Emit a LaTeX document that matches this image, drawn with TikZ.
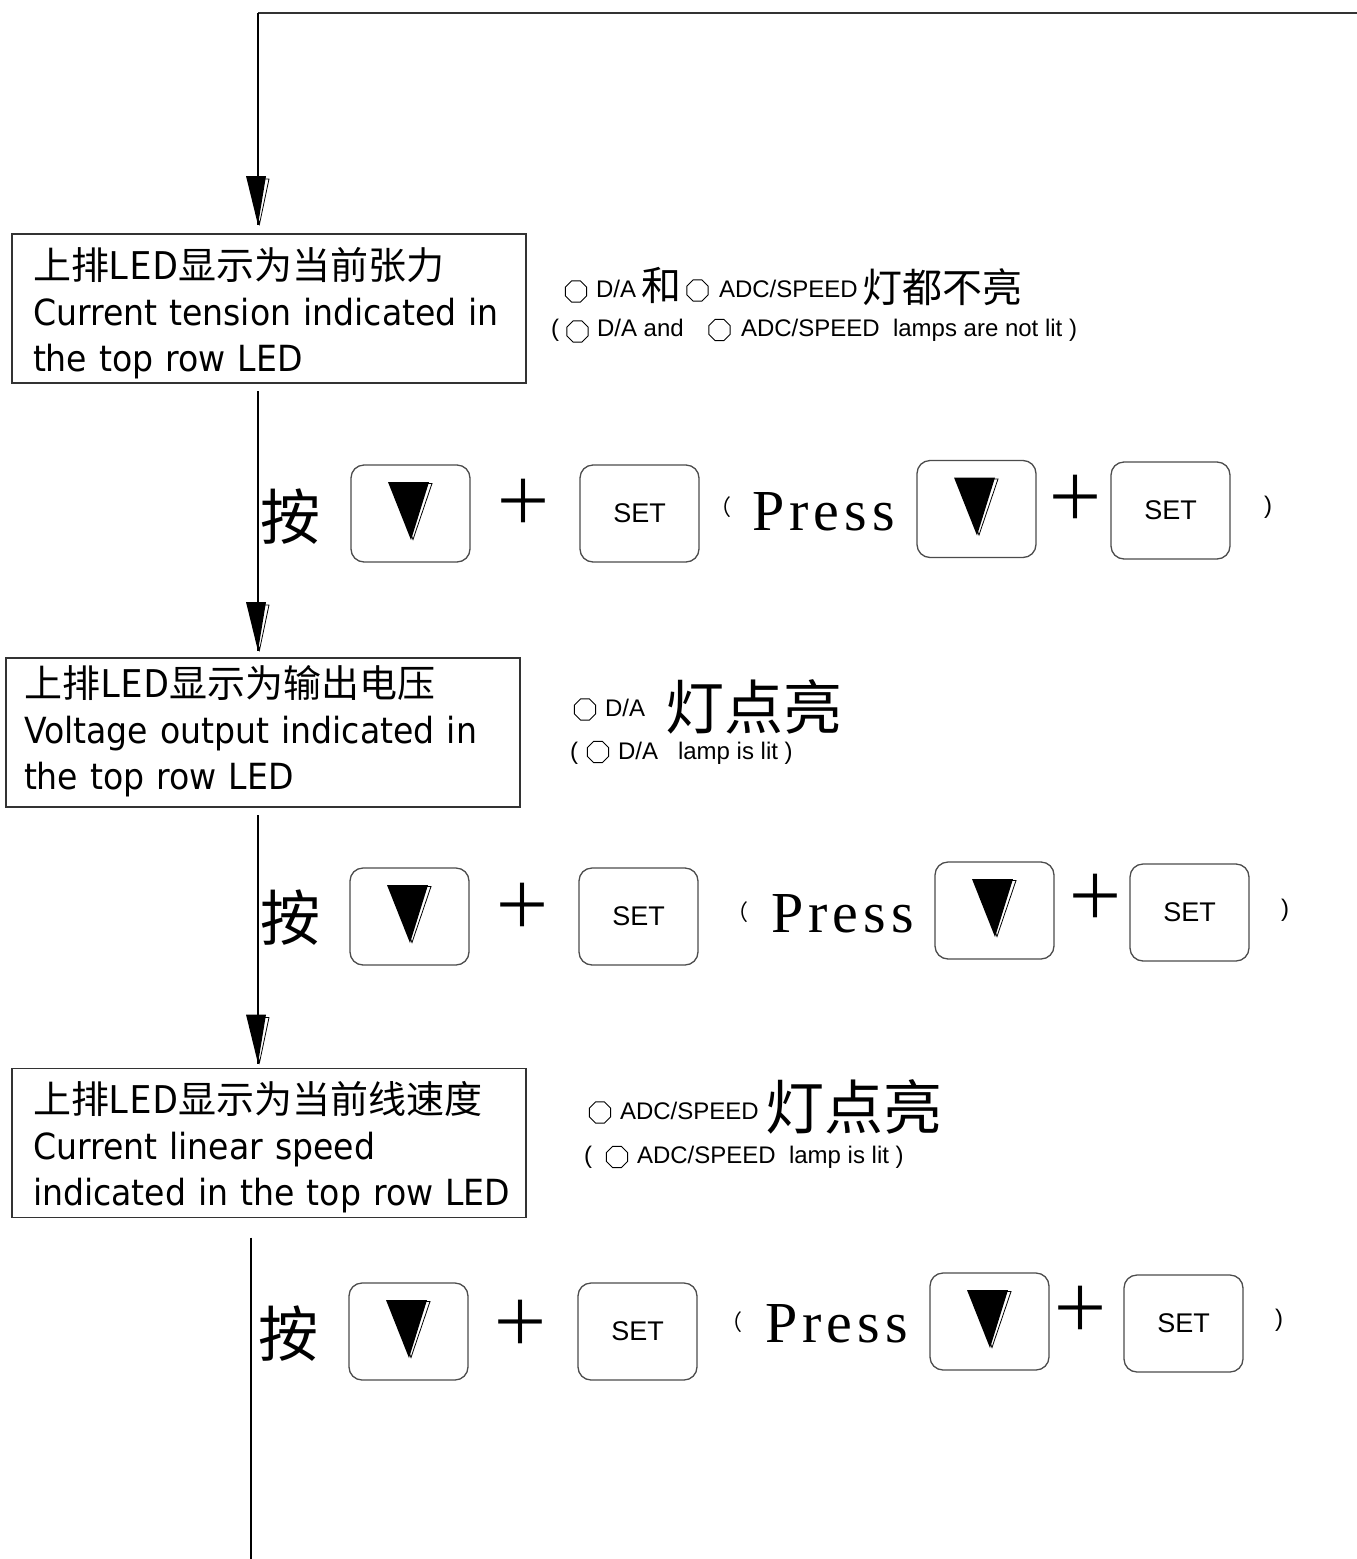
\documentclass[tikz,border=0pt]{standalone}
\usepackage{fontspec}
\setmainfont{Liberation Sans}
\newfontfamily\cjk{Noto Sans CJK SC}
\newfontfamily\boxfont{DejaVu Sans}[FakeStretch=0.92]
\newfontfamily\pressfont{Liberation Serif}[LetterSpace=9]
\usetikzlibrary{shapes.geometric}
\tikzset{
  every node/.style={inner sep=0pt, outer sep=0pt},
  stepbox/.style={draw=black!80, line width=1.3pt, inner xsep=21pt, text width=472pt,
    align=left, minimum height=149pt, font=\boxfont\fontsize{36pt}{46pt}\selectfont},
  btn/.style={draw=black!70, line width=1.3pt, rounded corners=13pt,
    minimum width=119pt, minimum height=97pt},
  settext/.style={font=\fontsize{27pt}{27pt}\selectfont},
  lamp/.style={draw, regular polygon, regular polygon sides=8, minimum size=23pt, line width=0.9pt},
  small/.style={font=\fontsize{24pt}{24pt}\selectfont, anchor=base west},
  bigcjk/.style={font=\cjk\fontsize{59pt}{59pt}\selectfont, anchor=west},
  midcjk/.style={font=\cjk\fontsize{40pt}{40pt}\selectfont, anchor=west},
  presskey/.style={font=\cjk\fontsize{60pt}{60pt}\selectfont},
  plus/.style={font=\cjk\fontsize{60pt}{60pt}\selectfont},
  lparen/.style={font=\cjk\fontsize{22pt}{22pt}\selectfont},
  rparen/.style={font=\fontsize{24pt}{24pt}\selectfont},
  presstxt/.style={font=\pressfont\fontsize{58pt}{58pt}\selectfont, anchor=base west},
  conn/.style={line width=1.4pt, draw=black},
  btntri/.pic={
    \filldraw[fill=white, draw=black, line width=0.8pt] (-19.5,-30) -- (21.5,-30) -- (2.5,26) -- cycle;
    \fill[black] (-22.5,-31.5) -- (18.5,-31.5) -- (0.5,26.5) -- cycle;
  },
  tiptri/.pic={
    \filldraw[fill=white, draw=black, line width=0.8pt] (-9,-46) -- (11,-46) -- (1.5,-1) -- cycle;
    \fill[black] (-12,-49) -- (8,-49) -- (0,0) -- cycle;
  }
}
\begin{document}
\begin{tikzpicture}[x=1pt,y=-1pt]
\useasboundingbox[fill=white] (0,0) rectangle (1357,1559);

% ---- step boxes
\node[stepbox] (b1) at (269,308.5) {\mbox{\cjk\fontsize{38pt}{46pt}\selectfont\rule{0pt}{42pt}上排LED显示为当前张力}\\ \mbox{Current tension indicated in}\\ \mbox{the top row LED\rule[-9pt]{0pt}{9pt}}};
\node[stepbox, inner xsep=18pt, text width=478pt] (b2) at (263,732.5) {\mbox{\cjk\fontsize{38pt}{46pt}\selectfont\rule{0pt}{35pt}上排LED显示为输出电压}\\ \mbox{Voltage output indicated in}\\ \mbox{the top row LED\rule[-14pt]{0pt}{14pt}}};
\node[stepbox] (b3) at (269,1143) {\mbox{\cjk\fontsize{38pt}{46pt}\selectfont\rule{0pt}{42pt}上排LED显示为当前线速度}\\ \mbox{Current linear speed}\\ \mbox{indicated in the top row LED\rule[-9pt]{0pt}{9pt}}};

% ---- connectors
\coordinate (tr) at (1357,13);
\coordinate (tl) at (258,13);
\coordinate (xa) at (258,0);
\coordinate (xb) at (251,0);
\coordinate (bend) at (251,1559);
\draw[conn, draw=black!80, line width=1.8pt] (tr) -- (tl);
\draw[conn] (tl) -- ([yshift=9pt]b1.north -| tl);
\pic at ([yshift=9pt]b1.north -| tl) {tiptri};
\draw[conn] ([yshift=-8pt]b1.south -| xa) -- ([yshift=7pt]b2.north -| xa);
\pic at ([yshift=7pt]b2.north -| xa) {tiptri};
\draw[conn] ([yshift=-8pt]b2.south -| xa) -- ([yshift=5pt]b3.north -| xa);
\pic at ([yshift=5pt]b3.north -| xa) {tiptri};
\draw[conn] ([yshift=-20pt]b3.south -| xb) -- (bend);

% ---- lamp labels, step 1
\node[lamp] (l1a) at (576,291.5) {};
\node[small] (t1a) at (596,297) {D/A};
\node[midcjk] (t1b) at (641,285) {和};
\node[lamp] (l1b) at (697.5,290.5) {};
\node[small] (t1c) at (719,297) {ADC/SPEED};
\node[midcjk] (t1d) at (862,287) {灯都不亮};
\node[small] (t1e) at (551,336) {(};
\node[lamp] (l1c) at (577.5,331.5) {};
\node[small] (t1f) at (597,336) {D/A and};
\node[lamp] (l1d) at (719.5,330) {};
\node[small] (t1g) at (741,336) {ADC/SPEED\ \ lamps are not lit )};

% ---- lamp labels, step 2
\node[lamp] (l2a) at (585,709.5) {};
\node[small] (t2a) at (605,716) {D/A};
\node[bigcjk] (t2b) at (665,707) {灯点亮};
\node[small] (t2c) at (570,759) {(};
\node[lamp] (l2b) at (598,752) {};
\node[small] (t2d) at (618,759) {D/A\ \ \ lamp is lit )};

% ---- lamp labels, step 3
\node[lamp] (l3a) at (600,1112.5) {};
\node[small] (t3a) at (620,1119) {ADC/SPEED};
\node[bigcjk] (t3b) at (765,1107) {灯点亮};
\node[small] (t3c) at (584,1163) {(};
\node[lamp] (l3b) at (617,1157) {};
\node[small] (t3d) at (637,1163) {ADC/SPEED\ \ lamp is lit )};

% ---- key rows
% row 1
\node[presskey] (k1) at (290,517) {按};
\node[btn] (d1) at (410.5,513.5) {};
\pic at (d1.center) {btntri};
\node[plus] (pa1) at (523,501) {＋};
\node[btn, settext] (s1) at (639.5,513.5) {SET};
\node[lparen] (lp1) at (720,507) {（};
\node[presstxt] (pr1) at (752,530) {Press};
\node[btn] (e1) at (976.5,509) {};
\pic at (e1.center) {btntri};
\node[plus] (pb1) at (1075,497) {＋};
\node[btn, settext] (u1) at (1170.5,510.5) {SET};
\node[rparen] (rp1) at (1268,507) {)};
% row 2
\node[presskey] (k2) at (290,918) {按};
\node[btn] (d2) at (409.5,916.5) {};
\pic at (d2.center) {btntri};
\node[plus] (pa2) at (522,905) {＋};
\node[btn, settext] (s2) at (638.5,916.5) {SET};
\node[lparen] (lp2) at (737,912) {（};
\node[presstxt] (pr2) at (771,932) {Press};
\node[btn] (e2) at (994.5,910.5) {};
\pic at (e2.center) {btntri};
\node[plus] (pb2) at (1095,896) {＋};
\node[btn, settext] (u2) at (1189.5,912.5) {SET};
\node[rparen] (rp2) at (1285,910) {)};
% row 3
\node[presskey] (k3) at (288,1334) {按};
\node[btn] (d3) at (408.5,1331.5) {};
\pic at (d3.center) {btntri};
\node[plus] (pa3) at (520,1322) {＋};
\node[btn, settext] (s3) at (637.5,1331.5) {SET};
\node[lparen] (lp3) at (731,1322) {（};
\node[presstxt] (pr3) at (765,1342) {Press};
\node[btn] (e3) at (989.5,1321.5) {};
\pic at (e3.center) {btntri};
\node[plus] (pb3) at (1080,1308) {＋};
\node[btn, settext] (u3) at (1183.5,1323.5) {SET};
\node[rparen] (rp3) at (1279,1320) {)};
\end{tikzpicture}
\end{document}
